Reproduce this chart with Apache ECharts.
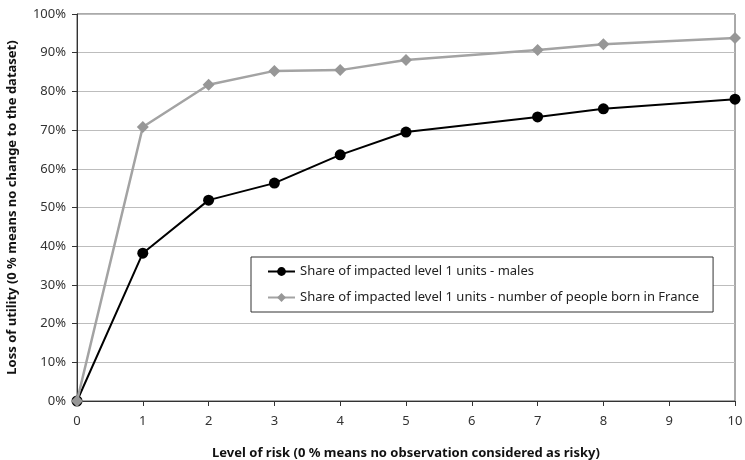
<!DOCTYPE html>
<html>
<head>
<meta charset="utf-8">
<script src="https://cdn.jsdelivr.net/npm/echarts@6/dist/echarts.min.js"></script>
<style>
  html, body { margin: 0; padding: 0; background: #fff; }
  #chart { width: 745px; height: 460px; }
</style>
</head>
<body>
<div id="chart"></div>
<script>
// niveaux de risque (axe x en valeur, 6 et 9 absents)
var riskLevels = [0, 1, 2, 3, 4, 5, 7, 8, 10];
var malesShare = [0, 38.2, 51.9, 56.3, 63.6, 69.5, 73.4, 75.5, 78.0];
var bornFranceShare = [0, 70.8, 81.7, 85.3, 85.5, 88.1, 90.7, 92.2, 93.8];
var seriesNames = [
    'Share of impacted level 1 units - males',
    'Share of impacted level 1 units - number of people born in France'
];

function pairs(xs, ys){
    var res = [];
    for(var i=0; i<xs.length; i++){
        res.push([xs[i], ys[i]]);
    }
    return res;
}

var font = 'Noto Sans';
var chart = echarts.init(document.getElementById('chart'));
var option = {
    animation: false,
    textStyle: { fontFamily: font },
    grid: {
        left: 77,
        right: 10,
        top: 14,
        bottom: 59,
        outerBoundsMode: 'none',
        containLabel: false,
        show: true,
        borderColor: '#555',
        borderWidth: 1
    },
    legend: {
        orient: 'vertical',
        left: 251,
        top: 257,
        padding: [8, 14, 8, 16],
        itemGap: 13,
        itemWidth: 27,
        itemHeight: 11,
        backgroundColor: '#fff',
        borderColor: '#333',
        borderWidth: 1,
        textStyle: { fontFamily: font, fontSize: 13, color: '#222' },
        data: seriesNames
    },
    xAxis: {
        type: 'value',
        min: 0,
        max: 10,
        interval: 1,
        name: 'Level of risk (0 % means no observation considered as risky)',
        nameLocation: 'middle',
        nameGap: 46,
        nameTextStyle: { fontFamily: font, fontWeight: 'bold', fontSize: 13, color: '#111' },
        axisLine: { show: true, lineStyle: { color: '#333', width: 1 } },
        axisTick: { show: true, inside: false, length: 5, lineStyle: { color: '#333' } },
        axisLabel: { color: '#333', fontSize: 13, margin: 14 },
        splitLine: { show: false }
    },
    yAxis: {
        type: 'value',
        min: 0,
        max: 100,
        interval: 10,
        name: 'Loss of utility (0 % means no change to the dataset)',
        nameLocation: 'middle',
        nameGap: 58,
        nameRotate: 90,
        nameTextStyle: { fontFamily: font, fontWeight: 'bold', fontSize: 13, color: '#111' },
        axisLine: { show: true, lineStyle: { color: '#333', width: 1 } },
        axisTick: { show: true, length: 5, lineStyle: { color: '#333' } },
        axisLabel: { color: '#333', fontSize: 13, margin: 11, formatter: '{value}%' },
        splitLine: { show: true, lineStyle: { color: '#bdbdbd', width: 1 } }
    },
    series: [
        {
            name: seriesNames[0],
            type: 'line',
            symbol: 'circle',
            symbolSize: 11,
            z: 2,
            itemStyle: { color: '#000' },
            lineStyle: { color: '#000', width: 2 },
            data: pairs(riskLevels, malesShare)
        },
        {
            name: seriesNames[1],
            type: 'line',
            symbol: 'diamond',
            symbolSize: 12,
            z: 3,
            itemStyle: { color: '#979797' },
            lineStyle: { color: '#a3a3a3', width: 2.5 },
            data: pairs(riskLevels, bornFranceShare)
        }
    ]
};
chart.setOption(option);
</script>
</body>
</html>
